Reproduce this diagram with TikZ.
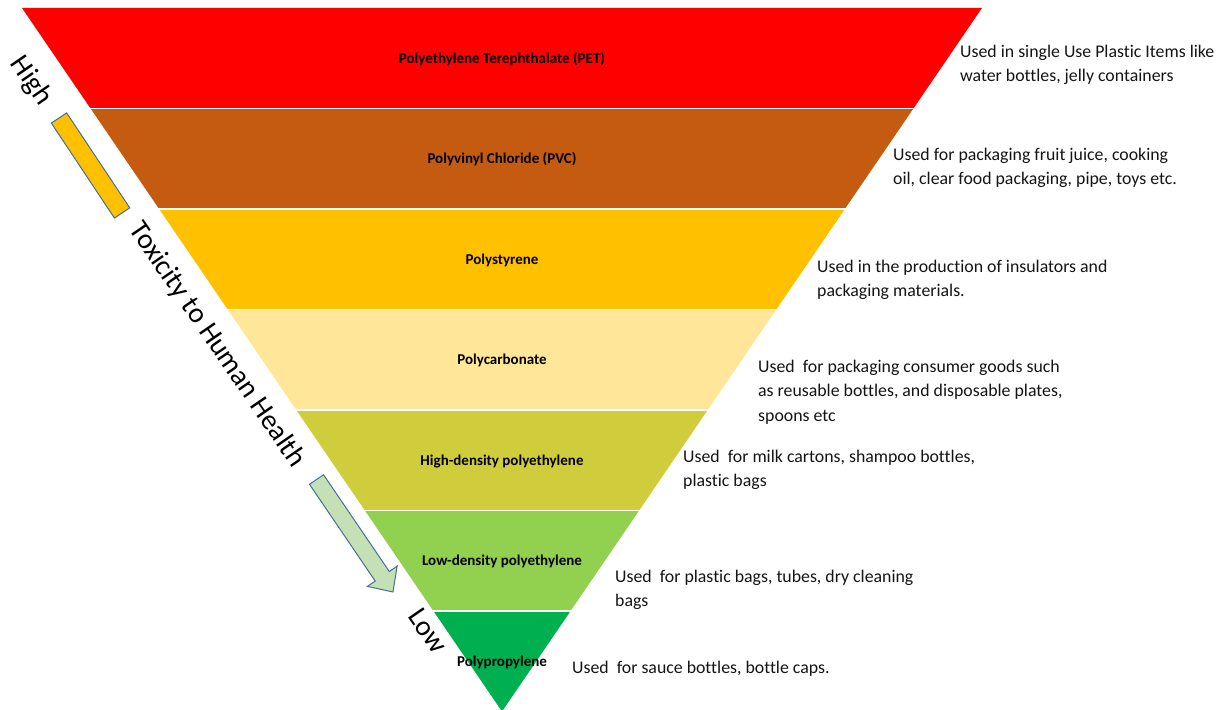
\documentclass[tikz,border=0pt]{standalone}
\usepackage{fontspec}
\setmainfont{Carlito}[Ligatures=NoCommon]
\definecolor{petred}{HTML}{FF0000}
\definecolor{pvcbrown}{HTML}{C55A11}
\definecolor{psamber}{HTML}{FFC000}
\definecolor{pccream}{HTML}{FFE699}
\definecolor{hdpeolive}{HTML}{D0CD3C}
\definecolor{ldpegreen}{HTML}{92D050}
\definecolor{ppgreen}{HTML}{00B050}
\definecolor{arrowline}{HTML}{41719C}
\definecolor{arrowfill}{HTML}{C5E0B4}
\definecolor{bodytext}{HTML}{141414}
\begin{document}
\begin{tikzpicture}[x=1pt,y=-1pt,
  bandlabel/.style={font=\fontsize{15}{17}\selectfont\bfseries, text=black, inner sep=0, anchor=base},
  % multi-line nodes are placed by the baseline of their last line
  usetext/.style={font=\fontsize{17.8}{24.8}\selectfont, text=bodytext, align=left, anchor=base west, inner sep=0},
  sidetext/.style={font=\fontsize{28.5}{32}\selectfont, text=black, rotate=-55.5, inner sep=0},
  outline/.style={draw=arrowline, line width=1pt, line join=miter}]

\useasboundingbox (0,0) rectangle (1225,709);

% inverted pyramid: seven bands of equal height
\foreach \col [count=\i from 0] in {petred,pvcbrown,psamber,pccream,hdpeolive,ldpegreen,ppgreen}{
  \pgfmathsetmacro\yt{8+100.5*\i}
  \pgfmathsetmacro\yb{8+100.5*(\i+1)}
  \pgfmathsetmacro\wt{480-68.571*\i}
  \pgfmathsetmacro\wb{max(480-68.571*(\i+1),0)}
  \fill[\col] (502-\wt,\yt) -- (502+\wt,\yt) -- (502+\wb,\yb) -- (502-\wb,\yb) -- cycle;
}
% white separators between the bands
\foreach \i in {1,...,6}{
  \pgfmathsetmacro\ys{8+100.5*\i}
  \pgfmathsetmacro\ws{480-68.571*\i+2}
  \draw[white, line width=1.6pt] (502-\ws,\ys) -- (502+\ws,\ys);
}

% band names
\node[bandlabel] (pet)  at (502,63.25)  {Polyethylene Terephthalate (PET)};
\node[bandlabel] (pvc)  at (502,163.75) {Polyvinyl Chloride (PVC)};
\node[bandlabel] (ps)   at (502,264.25) {Polystyrene};
\node[bandlabel] (pc)   at (502,364.75) {Polycarbonate};
\node[bandlabel] (hdpe) at (502,465.25) {High-density polyethylene};
\node[bandlabel] (ldpe) at (502,565.75) {Low-density polyethylene};
\node[bandlabel] (pp)   at (502,666.25) {Polypropylene};

% uses
\node[usetext] (usepet)  at (960,81.8)  {Used in single Use Plastic Items like\\water bottles, jelly containers};
\node[usetext] (usepvc)  at (893,184.8) {Used for packaging fruit juice, cooking\\oil, clear food packaging, pipe, toys etc.};
\node[usetext] (useps)   at (817,296.8) {Used in the production of insulators and\\packaging materials.};
\node[usetext] (usepc)   at (758,421.6) {Used~ for packaging consumer goods such\\as reusable bottles, and disposable plates,\\spoons etc};
\node[usetext] (usehdpe) at (683,486.8) {Used~ for milk cartons, shampoo bottles,\\plastic bags};
\node[usetext] (useldpe) at (615,606.8) {Used~ for plastic bags, tubes, dry cleaning\\bags};
\node[usetext] (usepp)   at (572,673)   {Used~ for sauce bottles, bottle caps.};

% toxicity scale along the left edge
\node[sidetext] (high) at (31,81)   {High};
\node[sidetext] (tox)  at (217,345) {Toxicity to Human Health};
\node[sidetext] (low)  at (428,631) {Low};

% amber bar under "High"
\begin{scope}[shift={(59,118)}, rotate=-56.4]
  \filldraw[outline, fill=psamber] (0,-9.2) rectangle (114,9.2);
\end{scope}

% pale green block arrow pointing to "Low"
\begin{scope}[shift={(316.5,479.5)}, rotate=-55.8]
  \filldraw[outline, fill=arrowfill]
    (0,-8.5) -- (117,-8.5) -- (117,-18) -- (136,0) -- (117,18) -- (117,8.5) -- (0,8.5) -- cycle;
\end{scope}
\end{tikzpicture}
\end{document}
